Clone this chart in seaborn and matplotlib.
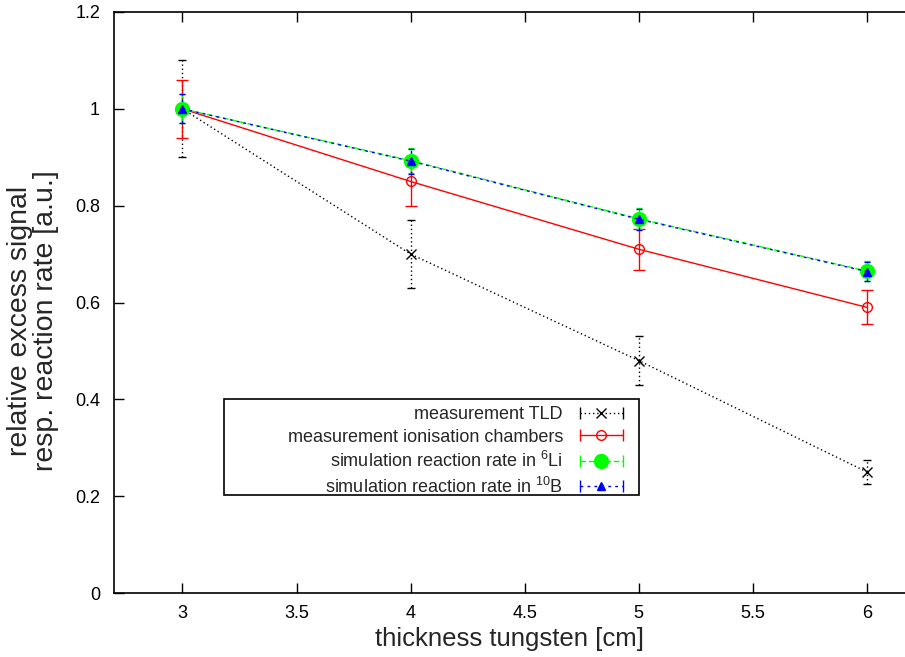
import matplotlib
matplotlib.use("Agg")
import matplotlib.pyplot as plt
import seaborn as sns
import numpy as np
from matplotlib.lines import Line2D
from matplotlib.patches import Rectangle
from matplotlib.legend_handler import HandlerLine2D, HandlerTuple
from matplotlib.ticker import FuncFormatter

# ---- data ----
thickness = [3, 4, 5, 6]
tld = [1.0, 0.70, 0.48, 0.25]
tld_err = [0.10, 0.07, 0.05, 0.025]
ion = [1.0, 0.85, 0.71, 0.59]
ion_err = [0.06, 0.05, 0.042, 0.035]
li6 = [1.0, 0.893, 0.773, 0.665]
li6_err = [0.03, 0.026, 0.022, 0.02]
b10 = [1.0, 0.892, 0.772, 0.664]
b10_err = [0.03, 0.026, 0.022, 0.02]

labels = ["measurement TLD",
          "measurement ionisation chambers",
          "simulation reaction rate in $^{6}$Li",
          "simulation reaction rate in $^{10}$B"]
x_ticks = [3, 3.5, 4, 4.5, 5, 5.5, 6]
y_ticks = [0, 0.2, 0.4, 0.6, 0.8, 1.0, 1.2]

sns.set_theme(style="ticks")
plt.rcParams["font.family"] = ["Liberation Sans", "DejaVu Sans"]
plt.rcParams["mathtext.fontset"] = "custom"
plt.rcParams["mathtext.rm"] = "Liberation Sans"
plt.rcParams["mathtext.it"] = "Liberation Sans:italic"

fig = plt.figure(figsize=(9.05, 6.57), dpi=100)
ax = fig.add_axes([114/905, 64/657, 791/905, 581/657])

BLACK = "#000000"
RED = "#ff0000"
GREEN = "#00ff00"
BLUE = "#0000ff"

series = [
    (tld, tld_err, BLACK, (0, (1, 2)), "x", 7, "full", 1.0, 3),
    (ion, ion_err, RED, "-", "o", 7, "none", 1.0, 4),
    (li6, li6_err, GREEN, (0, (4, 2)), "o", 10, "full", 1.0, 2.5),
    (b10, b10_err, BLUE, (0, (2, 3)), "^", 5.5, "full", 1.0, 2.5),
]

for vals, errs, col, ls, mk, ms, fill, lw, cap in series:
    ax.errorbar(thickness, vals, yerr=errs, fmt="none", ecolor=col,
                elinewidth=lw, capsize=cap, capthick=lw, zorder=2)
    eb = ax.containers[-1]
    for lc in eb.lines[2]:
        lc.set_linestyle(ls)
    sns.lineplot(x=thickness, y=vals, ax=ax, color=col, linestyle=ls,
                 linewidth=lw, marker=mk, markersize=ms,
                 markerfacecolor=(col if fill == "full" else "none"),
                 markeredgecolor=col, markeredgewidth=1.0,
                 estimator=None, sort=False, zorder=3)

ax.set_xlim(2.7, 6.167)
ax.set_ylim(0, 1.2)
ax.set_xticks(x_ticks)
ax.set_yticks(y_ticks)
ax.xaxis.set_major_formatter(FuncFormatter(lambda v, p: f"{v:g}"))
ax.yaxis.set_major_formatter(FuncFormatter(lambda v, p: f"{v:g}"))
ax.tick_params(axis="both", direction="in", length=7, width=1.0,
               labelsize=13, colors="black", top=True, right=False)
ax.tick_params(axis="y", pad=10)
ax.tick_params(axis="x", pad=9)
for s in ["left", "bottom", "top"]:
    ax.spines[s].set_visible(True)
    ax.spines[s].set_linewidth(1.2)
    ax.spines[s].set_color("black")
ax.spines["right"].set_visible(False)

ax.set_xlabel("thickness tungsten [cm]", fontsize=18.5, labelpad=3)
ax.set_ylabel("relative excess signal\nresp. reaction rate [a.u.]",
              fontsize=20.5, linespacing=1.0)
ax.yaxis.set_label_coords(-0.069, 0.468)

# legend
handles = []
hmap = {}
for vals, errs, col, ls, mk, ms, fill, lw, cap in series:
    caps = Line2D([], [], color=col, linestyle=ls, linewidth=lw,
                  marker="|", markersize=8, markeredgewidth=1.0)
    mark = Line2D([], [], linestyle="none", marker=mk, markersize=ms,
                  markerfacecolor=(col if fill == "full" else "none"),
                  markeredgecolor=col, markeredgewidth=1.0)
    hmap[caps] = HandlerLine2D(numpoints=2)
    handles.append((caps, mark))
hmap[tuple] = HandlerTuple(ndivide=1, pad=0)

leg = ax.legend(handles, labels, handler_map=hmap, markerfirst=False,
                loc="upper right", bbox_to_anchor=(0.6498, 0.3214),
                frameon=False, fontsize=13, handlelength=2.94,
                handletextpad=0.66, labelspacing=0.3, borderpad=0,
                borderaxespad=0)
ax.add_patch(Rectangle((0.139, 0.1687), 0.6637 - 0.139, 0.3339 - 0.1687,
                       transform=ax.transAxes, fill=False,
                       edgecolor="black", linewidth=1.2, zorder=5))

fig.savefig("out.png", dpi=100)
